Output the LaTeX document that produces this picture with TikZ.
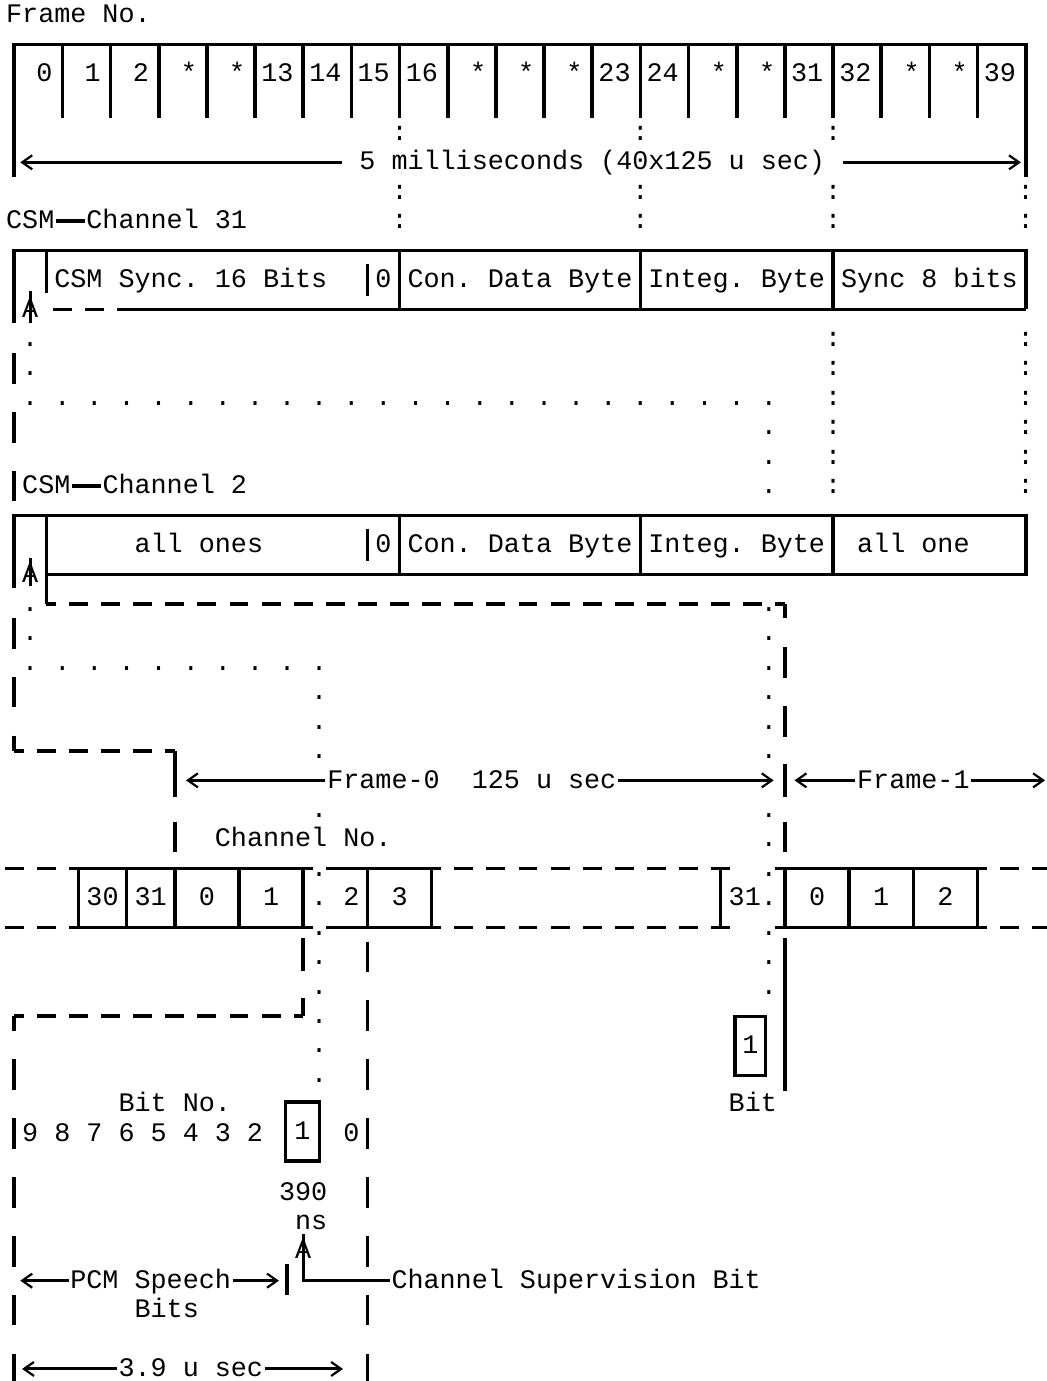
\documentclass[tikz,border=0pt]{standalone}
\usepackage{fontspec}
\newfontfamily\asciifont{Liberation Mono}
\usetikzlibrary{arrows.meta}

\begin{document}
\begin{tikzpicture}[
        x=8.0285pt, y=-14.715pt,
        line width=1.8pt,
        txt/.style={inner sep=0pt, text height=7.65pt, text depth=0pt, font=\asciifont\fontsize{13.38pt}{16pt}\selectfont\frenchspacing},
        gapline/.style={dash pattern=on 9.474pt off 6.583pt},
        evengap/.style={gapline, dash phase=4.737pt},
        pointer/.style={line width=1.5pt},
        arrow/.style={line width=1.5pt, -{Straight Barb[length=5pt,width=7pt,line width=1.1pt]}},
        bitbox/.style={txt, draw, line width=1.8pt, minimum height=29.5pt}
        ]

        \useasboundingbox (-0.884,-0.5165) rectangle (64.32,46.41);
        \clip (-0.884,-0.5165) rectangle (64.32,46.41);

        % frame numbers, 5 ms multiframe
        \node (frameno) [txt] at (4,0) {Frame No.};
        \draw (0,5.5) -- (0,1) -- (63,1) -- (63,5.5);
        \foreach \k in {1,...,20}
            \draw (3*\k,1) -- (3*\k,3.5);
        \foreach \t [count=\k from 0] in {0,1,2,*,*,13,14,15,16,*,*,*,23,24,*,*,31,32,*,*,39}
            \node (fr-\k) [txt, anchor=east] at (3*\k+2.5,2) {\t};

        \node (ms) [txt, inner xsep=8pt] at (36,5) {5 milliseconds (40x125 u sec)};
        \coordinate (msL) at (0.38,5);
        \coordinate (msR) at (62.7,5);
        \draw [arrow] (ms) -- (msL);
        \draw [arrow] (ms) -- (msR);

        \foreach \c in {24,39,51}
            \node (col-\c-4) [txt] at (\c,4) {:};
        \foreach \c in {24,39,51,63} {
            \node (col-\c-6) [txt] at (\c,6) {:};
            \node (col-\c-7) [txt] at (\c,7) {:};
        }
        \foreach \r in {11,...,16} {
            \node (col-51-\r) [txt] at (51,\r) {:};
            \node (col-63-\r) [txt] at (63,\r) {:};
        }

        % channel 31
        \node (csmA) [txt] at (1,7) {CSM};
        \node (chanA) [txt] at (9.5,7) {Channel 31};
        \draw (csmA) -- (chanA);

        \draw (0,10.46) -- (0,8) -- (63,8) -- (63,10);
        \draw (2,8) -- (2,9.45);
        \draw (22,8.45) -- (22,9.55);
        \foreach \c in {24,39,51}
            \draw (\c,8) -- (\c,10);
        \draw [gapline] (2.41,10) -- (6.41,10);
        \draw (6.41,10) -- (63,10);
        \node (syncA) [txt] at (11,9) {CSM Sync. 16 Bits};
        \node (zeroA) [txt] at (23,9) {0};
        \node (dataA) [txt] at (31.5,9) {Con. Data Byte};
        \node (integA) [txt] at (45,9) {Integ. Byte};
        \node (syncB) [txt] at (57,9) {Sync 8 bits};
        \node (upA) [txt] at (1,10) {A};
        \draw [pointer] (1,9.37) -- (1,10.46);

        % dots between the channels
        \foreach \r in {11,12,20,21}
            \node (dl-\r) [txt] at (1,\r) {.};
        \foreach \c in {1,3,...,47}
            \node (dr-\c) [txt] at (\c,13) {.};
        \foreach \c in {1,3,...,19}
            \node (ds-\c) [txt] at (\c,22) {.};
        \foreach \r in {14,15,16,20,21,22,23,24,25,27,28,29,31,32,33}
            \node (dv-\r) [txt] at (47,\r) {.};
        \foreach \r in {23,24,25,27,29,30,31,32,33,34,35,36}
            \node (dw-\r) [txt] at (19,\r) {.};

        \foreach \r in {12,14,16,21,23,36,38,40,42,44,46}
            \draw (0,\r-0.52) -- (0,\r+0.52);

        % channel 2
        \node (csmB) [txt] at (2,16) {CSM};
        \node (chanB) [txt] at (10,16) {Channel 2};
        \draw (csmB) -- (chanB);

        \draw (0,19.46) -- (0,17) -- (63,17) -- (63,19) -- (2,19);
        \draw (2,17) -- (2,20);
        \draw (22,17.45) -- (22,18.55);
        \foreach \c in {24,39,51}
            \draw (\c,17) -- (\c,19);
        \node (onesA) [txt] at (11.5,18) {all ones};
        \node (zeroB) [txt] at (23,18) {0};
        \node (dataB) [txt] at (31.5,18) {Con. Data Byte};
        \node (integB) [txt] at (45,18) {Integ. Byte};
        \node (onesB) [txt] at (56,18) {all one};
        \node (upB) [txt] at (1,19) {A};
        \draw [pointer] (1,18.43) -- (1,19.4);

        \draw [evengap] (2,20) -- (48,20);
        \draw (48,20) -- (48,20.5);
        \draw (48,21.48) -- (48,22.52);
        \draw (48,23.48) -- (48,24.52);
        \draw (0,24.48) -- (0,25);
        \draw [evengap] (0,25) -- (10,25);
        \draw (10,25) -- (10,26.58);
        \draw (48,25.43) -- (48,26.58);

        % 125 u sec frame
        \node (frame0) [txt] at (28.5,26) {Frame-0\ \ 125 u sec};
        \coordinate (f0L) at (10.7,26);
        \coordinate (f0R) at (47.3,26);
        \draw [arrow] (frame0) -- (f0L);
        \draw [arrow] (frame0) -- (f0R);
        \node (frame1) [txt] at (56,26) {Frame-1};
        \coordinate (f1L) at (48.6,26);
        \coordinate (f1R) at (64.2,26);
        \draw [arrow] (frame1) -- (f1L);
        \draw [arrow] (frame1) -- (f1R);

        \draw (10,27.4) -- (10,28.45);
        \draw (48,27.4) -- (48,28.45);
        \node (chno) [txt] at (18,28) {Channel No.};

        % channel time slots
        \foreach \r in {29,31} {
            \draw [gapline] (-2.59,\r) -- (44.59,\r);
            \draw [gapline] (47.41,\r) -- (66,\r);
            \draw (3.41,\r) -- (18.59,\r);
            \draw (19.41,\r) -- (26.59,\r);
            \draw (47.41,\r) -- (60.59,\r);
        }
        \foreach \c in {4,7,10,14,18,22,26,44,48,52,56,60}
            \draw (\c,29) -- (\c,31);
        \foreach \x/\t [count=\i] in {5.5/30,8.5/31,12/0,16/1,21/2,24/3,46/31.,50/0,54/1,58/2}
            \node (ts-\i) [txt] at (\x,30) {\t};

        % channel bit
        \draw (48,31.37) -- (48,36.55);
        \node (bitR) [bitbox, minimum width=15.25pt] at (45.85,35.03) {1};
        \node (bitlab) [txt] at (46,37) {Bit};

        \draw (18,31.37) -- (18,32.47);
        \draw (18,33.4) -- (18,34);
        \draw [evengap] (0,34) -- (18,34);
        \draw (0,34) -- (0,34.5);
        \foreach \r in {32,34,36,38,40,42,44,46}
            \draw (22,\r-0.52) -- (22,\r+0.52);

        % bits of one channel
        \node (bitno) [txt] at (10,37) {Bit No.};
        \node (bits) [txt] at (8,38) {9 8 7 6 5 4 3 2};
        \node (bitL) [bitbox, minimum width=16.9pt] at (17.95,37.93) {1};
        \node (bit0) [txt] at (21,38) {0};
        \node (ns1) [txt] at (18,40) {390};
        \node (ns2) [txt] at (18.5,41) {ns};

        \node (csb) [txt] at (35,43) {Channel Supervision Bit};
        \node (upC) [txt] at (18,42) {A};
        \coordinate (csbTip) at (18,41.41);
        \draw [pointer] (csb) -| (csbTip);

        \draw (17,42.44) -- (17,43.5);
        \node (pcm) [txt] at (8.5,43) {PCM Speech};
        \node (pcm2) [txt] at (9.5,44) {Bits};
        \coordinate (pcmL) at (0.38,43);
        \coordinate (pcmR) at (16.49,43);
        \draw [arrow] (pcm) -- (pcmL);
        \draw [arrow] (pcm) -- (pcmR);

        \node (usec) [txt] at (11,46) {3.9 u sec};
        \coordinate (usecL) at (0.49,46);
        \coordinate (usecR) at (20.48,46);
        \draw [arrow] (usec) -- (usecL);
        \draw [arrow] (usec) -- (usecR);

    \end{tikzpicture}
\end{document}
